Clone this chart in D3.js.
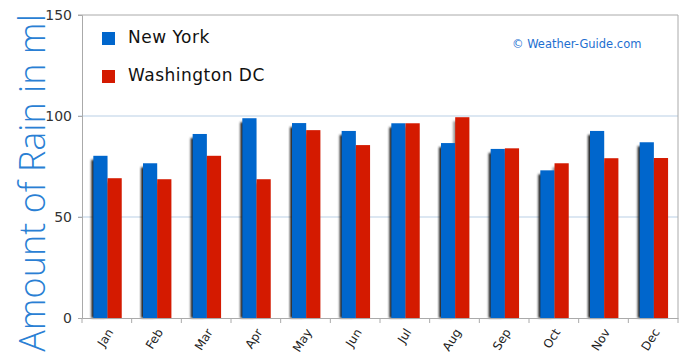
<!DOCTYPE html>
<html><head><meta charset="utf-8">
<script src="https://cdn.jsdelivr.net/npm/d3@7"></script>
<style>body{margin:0;background:#fff}svg{display:block}</style>
</head><body>
<svg id="c" width="690" height="359"></svg>
<script>
const months = ["Jan","Feb","Mar","Apr","May","Jun","Jul","Aug","Sep","Oct","Nov","Dec"];
const seriesNames = ["New York","Washington DC"];
const newYork = [80.3, 76.6, 91.1, 98.9, 96.5, 92.6, 96.4, 86.6, 83.7, 73.1, 92.6, 87.0];
const washington = [69.2, 68.7, 80.3, 68.7, 93.0, 85.6, 96.4, 99.4, 84.0, 76.6, 79.1, 79.2];
const yTicks = [0, 50, 100, 150];
const colors = ["#0066cc", "#d41a00"];

const svg = d3.select("#c");
const L = 82, R = 678, T = 15, B = 318;
const x = d3.scaleBand().domain(months).range([L, R]).padding(0);
const bw = x.bandwidth();
const x1 = d3.scaleBand().domain(seriesNames).range([bw*0.228, bw*0.80]).padding(0);
const y = d3.scaleLinear().domain([0,150]).range([B, T]);

const defs = svg.append("defs");
const f = defs.append("filter").attr("id","sh").attr("x","-50%").attr("y","-20%").attr("width","200%").attr("height","140%");
f.append("feGaussianBlur").attr("stdDeviation",1.2);

// gridlines
svg.append("g").selectAll("line").data([50,100]).join("line")
  .attr("x1", L-4).attr("x2", R).attr("y1", d=>y(d)).attr("y2", d=>y(d))
  .attr("stroke","#b9cfe6").attr("stroke-width",1.2);
// top & right border
svg.append("line").attr("x1",L-4).attr("x2",R).attr("y1",T).attr("y2",T).attr("stroke","#aaa");
svg.append("line").attr("x1",R).attr("x2",R).attr("y1",T).attr("y2",B).attr("stroke","#aaa");

const data = months.map((m,i)=>({m, vals:[newYork[i], washington[i]]}));

// shadows
const gs = svg.append("g").attr("filter","url(#sh)");
data.forEach(d=>{
  d.vals.forEach((v,j)=>{
    gs.append("rect").attr("x", x(d.m)+x1(seriesNames[j])-2).attr("y", y(v)+4)
      .attr("width", x1.bandwidth()).attr("height", B-y(v)-4).attr("fill", j===0?"#222":"#999");
  });
});
// bars
const gb = svg.append("g");
data.forEach(d=>{
  d.vals.forEach((v,j)=>{
    gb.append("rect").attr("x", x(d.m)+x1(seriesNames[j])).attr("y", y(v))
      .attr("width", x1.bandwidth()).attr("height", B-y(v)).attr("fill", colors[j]);
  });
});

// y axis
const ya = svg.append("g").attr("transform",`translate(${L},0)`)
  .call(d3.axisLeft(y).tickValues(yTicks).tickSize(4).tickPadding(6));
ya.select(".domain").attr("stroke","#aaa");
ya.selectAll(".tick line").attr("stroke","#aaa");
ya.selectAll("text").attr("font-family","DejaVu Sans").attr("font-size",14).attr("fill","#333");

// x axis
const xa = svg.append("g").attr("transform",`translate(0,${B})`)
  .call(d3.axisBottom(x).tickSize(0));
xa.select(".domain").attr("stroke","#aaa");
xa.selectAll(".tick text").remove();
svg.append("g").selectAll("line").data(d3.range(13)).join("line")
  .attr("x1", i=>L+i*bw).attr("x2", i=>L+i*bw).attr("y1",B).attr("y2",B+5).attr("stroke","#aaa");
svg.append("g").selectAll("text").data(months).join("text")
  .attr("transform", d=>`translate(${x(d)+bw/2+7},${B+14}) rotate(-58)`)
  .attr("text-anchor","end").attr("font-family","DejaVu Sans").attr("font-size",12).attr("fill","#222")
  .text(d=>d);

// y label
svg.append("text").attr("transform","translate(45,183) rotate(-90)")
  .attr("text-anchor","middle").attr("font-family","Open Sans").attr("font-weight",300).attr("font-size",36)
  .attr("fill","#2a7fd4").text("Amount of Rain in ml");

// legend
seriesNames.forEach((s,i)=>{
  svg.append("rect").attr("x",102).attr("y",32+i*38).attr("width",13).attr("height",13).attr("fill",colors[i]);
  svg.append("text").attr("x",128).attr("y",43+i*38).attr("font-family","DejaVu Sans").attr("font-size",17)
    .attr("letter-spacing",0.5).attr("fill","#111").text(s);
});

// watermark
svg.append("text").attr("x",512).attr("y",48).attr("font-family","DejaVu Sans").attr("font-size",11.5)
  .attr("fill","#1e6fd0").text("© Weather-Guide.com");
</script>
</body></html>
